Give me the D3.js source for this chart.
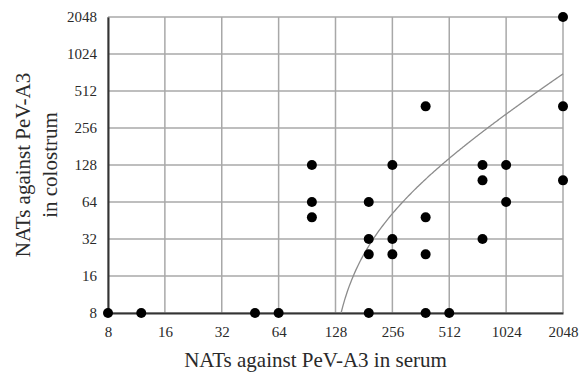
<!DOCTYPE html>
<html>
<head>
<meta charset="utf-8">
<script src="https://cdn.jsdelivr.net/npm/d3@7"></script>
<style>
  body { margin: 0; background: #fff; }
  text { font-family: "Liberation Serif", "Times New Roman", serif; fill: #2a2a2a; }
</style>
</head>
<body>
<div id="chart"></div>
<script>
// titres (log2 scale on both axes)
const ticks = [8, 16, 32, 64, 128, 256, 512, 1024, 2048];
const serum = [8, 12, 48, 64, 96, 96, 96, 192, 192, 192, 192, 256, 256, 256, 384, 384, 384, 384, 512, 768, 768, 768, 1024, 1024, 2048, 2048, 2048];
const colostrum = [8, 8, 8, 8, 128, 64, 48, 8, 64, 32, 24, 128, 32, 24, 384, 48, 24, 8, 8, 128, 96, 32, 128, 64, 2048, 384, 96];

// regression line (linear): colostrum = slope * serum + intercept
const slope = 0.365;
const intercept = -42;

const margin = {top: 17, right: 16, bottom: 61, left: 108};
const width = 579 - margin.left - margin.right;
const height = 374 - margin.top - margin.bottom;

const svg = d3.select("#chart").append("svg")
    .attr("width", 579)
    .attr("height", 374)
    .append("g")
    .attr("transform", `translate(${margin.left},${margin.top})`);

const x = d3.scaleLog().base(2).domain([8, 2048]).range([0, width]);
const y = d3.scaleLog().base(2).domain([8, 2048]).range([height, 0]);

// grid
svg.append("g")
    .selectAll("path")
    .data(ticks)
    .join("path")
    .attr("d", d => `M${x(d)},0V${height}`)
    .style("stroke", "#a8a8a8")
    .style("stroke-width", "1.5px")
    .style("fill", "none");

svg.append("g")
    .selectAll("path")
    .data(ticks)
    .join("path")
    .attr("d", d => `M0,${y(d)}H${width}`)
    .style("stroke", "#a8a8a8")
    .style("stroke-width", "1.5px")
    .style("fill", "none");

// axes
const xAxis = d3.axisBottom(x).tickValues(ticks).tickFormat(d3.format("d")).tickSize(0).tickPadding(13);
const yAxis = d3.axisLeft(y).tickValues(ticks).tickFormat(d3.format("d")).tickSize(0).tickPadding(11);

svg.append("g")
    .attr("transform", `translate(0,${height})`)
    .call(xAxis)
    .call(g => g.select(".domain").attr("stroke", "#333").attr("stroke-width", 2))
    .selectAll("text").style("font-size", "15px").attr("fill", "#2a2a2a");

svg.append("g")
    .call(yAxis)
    .call(g => g.select(".domain").attr("stroke", "#333").attr("stroke-width", 2))
    .selectAll("text").style("font-size", "15px").attr("fill", "#2a2a2a");

// regression curve, starting where it meets the bottom axis
const start = (8 - intercept) / slope;
const lineData = [start].concat(d3.range(140, 2049, 4)).map(s => [s, slope * s + intercept]);
svg.append("path")
    .datum(lineData)
    .attr("fill", "none")
    .attr("stroke", "#8c8c8c")
    .attr("stroke-width", 1.3)
    .attr("d", d3.line().x(d => x(d[0])).y(d => y(d[1])));

// dots
svg.selectAll(".dot")
    .data(serum.map((s, i) => ({s: s, c: colostrum[i]})))
    .join("circle")
    .attr("class", "dot")
    .attr("cx", d => x(d.s))
    .attr("cy", d => y(d.c))
    .attr("r", 5)
    .attr("fill", "#000");

// axis titles
svg.append("text")
    .attr("x", width / 2 - 20)
    .attr("y", height + 54)
    .attr("text-anchor", "middle")
    .style("font-size", "21px")
    .text("NATs against PeV-A3 in serum");

svg.append("text")
    .attr("transform", `translate(${-margin.left + 30},${height / 2}) rotate(-90)`)
    .attr("text-anchor", "middle")
    .style("font-size", "21px")
    .text("NATs against PeV-A3");

svg.append("text")
    .attr("transform", `translate(${-margin.left + 57},${height / 2}) rotate(-90)`)
    .attr("text-anchor", "middle")
    .style("font-size", "21px")
    .text("in colostrum");
</script>
</body>
</html>
